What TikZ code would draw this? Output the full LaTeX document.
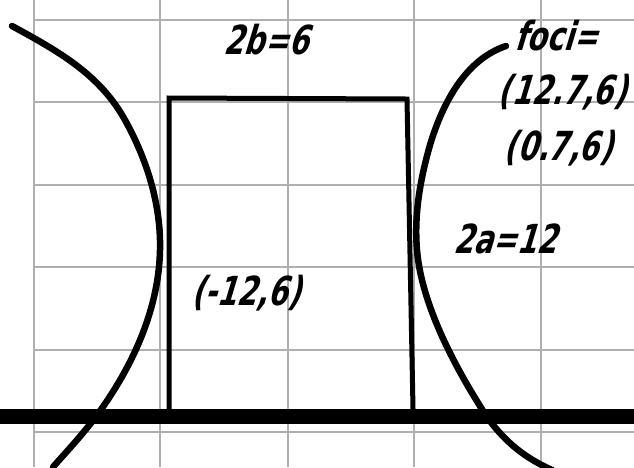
\documentclass[tikz,border=0pt]{standalone}
\usepackage{fontspec}
\newfontfamily\hand{DejaVu Sans Condensed}[BoldFeatures={FakeSlant=0.3,FakeStretch=0.8}]
\definecolor{gridgray}{RGB}{175,175,175}
\tikzset{
  lbl/.style={font=\hand\bfseries\fontsize{40}{42}\selectfont, inner sep=0pt, anchor=center},
  gridline/.style={draw=gridgray, line width=2pt},
  curve/.style={draw=black, line width=6.5pt, line cap=round, line join=round},
  boxline/.style={draw=black, line width=5pt, line join=miter},
  axisline/.style={draw=black, line width=15pt}
}
\begin{document}
\begin{tikzpicture}[x=1pt,y=-1pt]
\useasboundingbox (0,0) rectangle (634,467);
\fill[white] (0,0) rectangle (634,467);
% grid
\foreach \gx in {34,160,288,414,541} \draw[gridline] (\gx,0) -- (\gx,467);
\foreach \gy in {20,102,185,267,350,432} \draw[gridline] (34,\gy) -- (634,\gy);
% axis
\coordinate (axL) at (0,416);
\coordinate (axR) at (634,416);
\draw[axisline] (axL) -- (axR);
% rectangle
\coordinate (r1) at (169,409);
\coordinate (r2) at (169,98);
\coordinate (r3) at (407,99);
\coordinate (r4) at (413,409);
\draw[boxline] (r1) -- (r2) -- (r3) -- (r4);
% left branch
\draw[curve] (12,26) .. controls (60,52) and (100,75) .. (125,120)
  .. controls (150,165) and (161,210) .. (160,250)
  .. controls (159,300) and (140,355) .. (100,411)
  .. controls (85,432) and (68,450) .. (53,467);
% right branch
\draw[curve] (506,46) .. controls (470,58) and (445,95) .. (430,145)
  .. controls (420,180) and (414,215) .. (417,250)
  .. controls (421,300) and (450,360) .. (487,417)
  .. controls (505,442) and (525,458) .. (552,470);
% labels
\node[lbl] (tb) at (266,40) {2b=6};
\node[lbl] (tf) at (556,36) {foci=};
\node[lbl] (tf1) at (562,92) {(12.7,6)};
\node[lbl] (tf2) at (558,148) {(0.7,6)};
\node[lbl] (ta) at (505,239) {2a=12};
\node[lbl] (tp) at (246,293) {(-12,6)};
\end{tikzpicture}
\end{document}
